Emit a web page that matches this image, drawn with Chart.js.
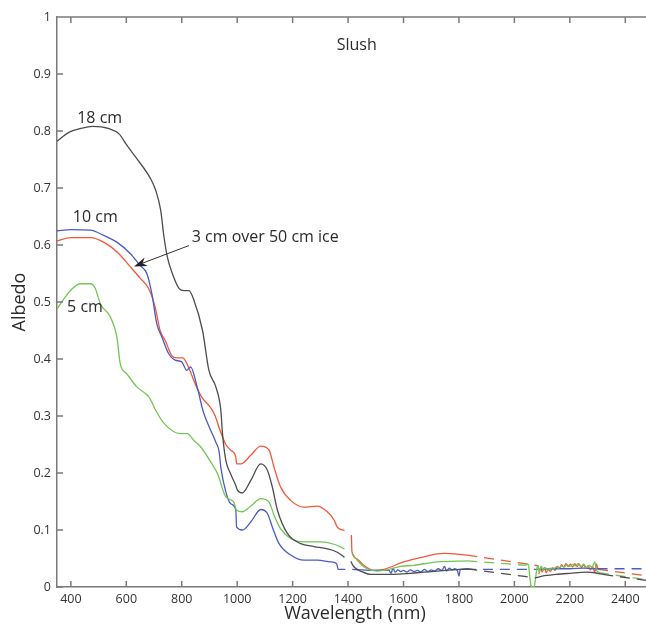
<!DOCTYPE html>
<html>
<head>
<meta charset="utf-8">
<script src="https://cdn.jsdelivr.net/npm/chart.js@4.4.0/dist/chart.umd.min.js"></script>
<style>
  html, body { margin: 0; padding: 0; background: #fff; overflow: hidden; }
  canvas { display: block; }
</style>
</head>
<body>
<canvas id="chart" width="660" height="626"></canvas>
<script>
/* axis ticks */
const xTicks = [400, 600, 800, 1000, 1200, 1400, 1600, 1800, 2000, 2200, 2400];
const yTicks = [0, 0.1, 0.2, 0.3, 0.4, 0.5, 0.6, 0.7, 0.8, 0.9, 1];

/* 18 cm slush (measured parts, null = gap) */
const wl18 = [350, 394, 440, 478, 538, 574, 598, 634, 688, 706, 724, 736, 748, 766, 790, 808, 826, 844, 875, 898, 923, 941, 947, 959, 975, 995, 1001, 1019, 1049, 1085, 1109, 1127, 1145, 1181, 1229, 1277, 1325, 1361, 1387,
  1400, 1410, 1420, 1450, 1481, 1550, 1650, 1750, 1830,
  1950, 2075, 2100, 2150, 2200, 2260, 2290, 2320];
const alb18 = [0.782, 0.798, 0.805, 0.808, 0.804, 0.795, 0.778, 0.754, 0.716, 0.696, 0.661, 0.614, 0.579, 0.55, 0.524, 0.52, 0.52, 0.503, 0.45, 0.38, 0.351, 0.31, 0.269, 0.222, 0.2, 0.178, 0.17, 0.165, 0.187, 0.216, 0.205, 0.175, 0.135, 0.094, 0.076, 0.071, 0.067, 0.061, 0.052,
  null, 0.045, 0.036, 0.027, 0.022, 0.022, 0.025, 0.029, 0.032,
  null, 0.016, 0.019, 0.022, 0.024, 0.026, 0.025, 0.022];
/* 18 cm interpolated (dashed) */
const wl18Fill = [1830, 2075, 2200, 2320, 2500];
const alb18Fill = [0.032, 0.016, null, 0.022, 0.010];

/* 10 cm slush */
const wl10 = [350, 400, 470, 518, 566, 614, 650, 674, 692, 710, 728, 752, 776, 800, 818, 832, 857, 878, 900, 923, 935, 941, 959, 977, 995, 998, 1019, 1049, 1085, 1109, 1127, 1151, 1193, 1241, 1289, 1337, 1359, 1364, 1390,
  1400, 1415, 1450, 1500, 1540, 1548, 1555, 1562, 1570, 1580, 1590, 1600, 1612, 1625, 1638, 1650, 1662, 1675, 1688, 1700, 1712, 1725, 1738, 1748, 1755, 1765, 1775, 1785, 1795, 1800, 1805, 1825,
  1950, 2090, 2150, 2200, 2250, 2300];
const alb10 = [0.625, 0.627, 0.626, 0.617, 0.605, 0.585, 0.564, 0.55, 0.515, 0.462, 0.439, 0.41, 0.398, 0.395, 0.38, 0.386, 0.348, 0.307, 0.28, 0.254, 0.237, 0.21, 0.167, 0.146, 0.135, 0.105, 0.1, 0.114, 0.136, 0.129, 0.105, 0.076, 0.056, 0.047, 0.047, 0.044, 0.041, 0.031, 0.031,
  null, 0.031, 0.030, 0.029, 0.029, 0.029, 0.024, 0.033, 0.026, 0.030, 0.027, 0.029, 0.026, 0.030, 0.027, 0.029, 0.026, 0.031, 0.027, 0.030, 0.028, 0.032, 0.029, 0.036, 0.028, 0.033, 0.030, 0.032, 0.028, 0.019, 0.031, 0.031,
  null, 0.031, 0.032, 0.032, 0.033, 0.032];
const wl10Fill = [1825, 2090, 2200, 2300, 2500];
const alb10Fill = [0.031, 0.031, null, 0.032, 0.032];

/* 3 cm slush over 50 cm ice */
const wl3 = [350, 400, 470, 518, 566, 614, 650, 680, 704, 722, 740, 764, 782, 804, 824, 848, 872, 902, 920, 938, 959, 977, 995, 998, 1013, 1049, 1085, 1115, 1133, 1157, 1193, 1241, 1289, 1325, 1349, 1361, 1387,
  1400, 1412, 1414, 1430, 1457, 1493, 1529, 1601, 1673, 1745, 1830,
  1950, 2088, 2095, 2100, 2108, 2115, 2122, 2130, 2138, 2146, 2155, 2163, 2170, 2178, 2186, 2194, 2202, 2210, 2218, 2226, 2234, 2242, 2250, 2258, 2266, 2274, 2282, 2290, 2296, 2302];
const alb3 = [0.607, 0.613, 0.613, 0.605, 0.588, 0.562, 0.542, 0.524, 0.491, 0.45, 0.433, 0.406, 0.402, 0.402, 0.386, 0.357, 0.333, 0.316, 0.301, 0.275, 0.25, 0.24, 0.228, 0.216, 0.216, 0.231, 0.247, 0.24, 0.21, 0.175, 0.152, 0.14, 0.142, 0.132, 0.118, 0.105, 0.099,
  null, 0.091, 0.062, 0.05, 0.038, 0.029, 0.031, 0.044, 0.053, 0.059, 0.056,
  null, 0.022, 0.035, 0.026, 0.034, 0.025, 0.031, 0.027, 0.034, 0.029, 0.036, 0.033, 0.039, 0.035, 0.041, 0.036, 0.040, 0.035, 0.041, 0.036, 0.040, 0.034, 0.039, 0.033, 0.037, 0.030, 0.036, 0.026, 0.040, 0.030];
const wl3Fill = [1830, 2088, 2200, 2302, 2500];
const alb3Fill = [0.056, 0.037, null, 0.031, 0.018];

/* 5 cm slush */
const wl5 = [350, 380, 400, 434, 470, 488, 506, 542, 566, 578, 602, 638, 682, 706, 736, 796, 820, 844, 868, 905, 929, 959, 988, 997, 1019, 1049, 1085, 1115, 1133, 1157, 1193, 1241, 1301, 1349, 1387,
  1400, 1415, 1433, 1469, 1505, 1541, 1589, 1637, 1721, 1830,
  1950, 2040, 2050, 2055, 2060, 2066, 2072, 2077, 2084, 2090, 2097, 2104, 2112, 2120, 2130, 2140, 2150, 2160, 2170, 2180, 2190, 2200, 2210, 2220, 2230, 2240, 2250, 2260, 2270, 2280, 2290, 2296, 2305];
const alb5 = [0.488, 0.509, 0.521, 0.532, 0.532, 0.524, 0.497, 0.474, 0.439, 0.392, 0.374, 0.351, 0.333, 0.31, 0.287, 0.269, 0.269, 0.257, 0.246, 0.219, 0.199, 0.158, 0.149, 0.135, 0.132, 0.142, 0.155, 0.149, 0.126, 0.102, 0.085, 0.079, 0.079, 0.075, 0.067,
  null, 0.059, 0.047, 0.032, 0.028, 0.030, 0.036, 0.038, 0.044, 0.046,
  null, 0.038, 0.040, 0.020, 0.003, 0.0, 0.002, 0.018, 0.038, 0.026, 0.036, 0.030, 0.034, 0.029, 0.033, 0.031, 0.035, 0.033, 0.037, 0.035, 0.039, 0.036, 0.040, 0.037, 0.041, 0.036, 0.040, 0.034, 0.038, 0.035, 0.044, 0.030, 0.026];
const wl5Fill = [1830, 2040, 2200, 2305, 2500];
const alb5Fill = [0.046, 0.038, null, 0.025, 0.011];

const black = "#4d4d4d";
const blue = "#4a5cc4";
const red = "#f4563a";
const green = "#72c653";
const textColor = "#2b2b2b";
const axisColor = "#7a7a7a";
const fontFamily = "'Open Sans', 'Noto Sans', sans-serif";

function toPoints(wl, alb) {
  return wl.map((x, i) => ({ x: x, y: alb[i] }));
}

function lineSet(label, wl, alb, color, dashed) {
  return {
    label: label,
    data: toPoints(wl, alb),
    borderColor: color,
    borderWidth: 1.3,
    borderDash: dashed ? [10, 7] : [],
    pointRadius: 0,
    fill: false,
    spanGaps: false,
    cubicInterpolationMode: "monotone",
  };
}

/* inward ticks, top frame, text notes and arrow */
const decorPlugin = {
  id: "decor",
  afterDraw(chart) {
    const ctx = chart.ctx;
    const xs = chart.scales.x;
    const ys = chart.scales.y;
    const area = chart.chartArea;
    ctx.save();
    ctx.strokeStyle = axisColor;
    ctx.lineWidth = 1.5;
    ctx.beginPath();
    ctx.moveTo(area.left, area.top);
    ctx.lineTo(area.right, area.top);
    xTicks.forEach((v) => {
      const px = xs.getPixelForValue(v);
      ctx.moveTo(px, area.bottom);
      ctx.lineTo(px, area.bottom - 6);
      ctx.moveTo(px, area.top);
      ctx.lineTo(px, area.top + 6);
    });
    yTicks.forEach((v) => {
      const py = ys.getPixelForValue(v);
      ctx.moveTo(area.left, py);
      ctx.lineTo(area.left + 6, py);
    });
    ctx.stroke();

    ctx.fillStyle = textColor;
    ctx.font = "16px " + fontFamily;
    ctx.textBaseline = "middle";
    const notes = [
      { text: "Slush", x: 1431, y: 0.95, align: "center" },
      { text: "18 cm", x: 504, y: 0.822, align: "center" },
      { text: "10 cm", x: 488, y: 0.648, align: "center" },
      { text: "5 cm", x: 451, y: 0.491, align: "center" },
      { text: "3 cm over 50 cm ice", x: 836, y: 0.614, align: "left" },
    ];
    notes.forEach((n) => {
      ctx.textAlign = n.align;
      ctx.fillText(n.text, xs.getPixelForValue(n.x), ys.getPixelForValue(n.y));
    });

    /* arrow to the 3 cm curve */
    const x0 = xs.getPixelForValue(826), y0 = ys.getPixelForValue(0.599);
    const x1 = xs.getPixelForValue(628), y1 = ys.getPixelForValue(0.5625);
    const ang = Math.atan2(y1 - y0, x1 - x0);
    ctx.strokeStyle = "#333";
    ctx.lineWidth = 1;
    ctx.beginPath();
    ctx.moveTo(x0, y0);
    ctx.lineTo(x1 - 8 * Math.cos(ang), y1 - 8 * Math.sin(ang));
    ctx.stroke();
    ctx.fillStyle = "#222";
    ctx.beginPath();
    ctx.moveTo(x1, y1);
    ctx.lineTo(x1 - 13 * Math.cos(ang) + 4.5 * Math.sin(ang), y1 - 13 * Math.sin(ang) - 4.5 * Math.cos(ang));
    ctx.lineTo(x1 - 9 * Math.cos(ang), y1 - 9 * Math.sin(ang));
    ctx.lineTo(x1 - 13 * Math.cos(ang) - 4.5 * Math.sin(ang), y1 - 13 * Math.sin(ang) + 4.5 * Math.cos(ang));
    ctx.closePath();
    ctx.fill();
    ctx.restore();
  },
};

const config = {
  type: "line",
  data: {
    datasets: [
      lineSet("18 cm", wl18, alb18, black, false),
      lineSet("18 cm fill", wl18Fill, alb18Fill, black, true),
      lineSet("5 cm", wl5, alb5, green, false),
      lineSet("5 cm fill", wl5Fill, alb5Fill, green, true),
      lineSet("10 cm", wl10, alb10, blue, false),
      lineSet("10 cm fill", wl10Fill, alb10Fill, blue, true),
      lineSet("3 cm over 50 cm ice", wl3, alb3, red, false),
      lineSet("3 cm fill", wl3Fill, alb3Fill, red, true),
    ],
  },
  options: {
    responsive: false,
    animation: false,
    layout: { padding: { left: 0, top: 17, right: 7, bottom: 0 } },
    plugins: {
      legend: { display: false },
      tooltip: { enabled: false },
    },
    scales: {
      x: {
        type: "linear",
        min: 350,
        max: 2500,
        afterFit: (scale) => { scale.height = 39; },
        afterBuildTicks: (scale) => { scale.ticks = xTicks.map((v) => ({ value: v })); },
        grid: { display: false, drawTicks: false },
        border: { display: true, color: axisColor, width: 1.5 },
        ticks: {
          padding: 5,
          color: "#333",
          font: { family: fontFamily, size: 12.5 },
          maxRotation: 0,
          callback: (v) => String(v),
        },
        title: {
          display: true,
          text: "Wavelength (nm)",
          color: textColor,
          font: { family: fontFamily, size: 18 },
          padding: { top: 0, bottom: 1 },
        },
      },
      y: {
        min: 0,
        max: 1,
        afterFit: (scale) => { scale.width = 57; },
        afterBuildTicks: (scale) => { scale.ticks = yTicks.map((v) => ({ value: v })); },
        grid: { display: false, drawTicks: false },
        border: { display: true, color: axisColor, width: 1.5 },
        ticks: {
          padding: 6,
          color: "#333",
          font: { family: fontFamily, size: 12.5 },
          callback: (v) => String(+v.toFixed(1)),
        },
        title: {
          display: true,
          text: "Albedo",
          color: textColor,
          font: { family: fontFamily, size: 18 },
          padding: { top: 9, bottom: 0 },
        },
      },
    },
  },
  plugins: [decorPlugin],
};

const myChart = new Chart(document.getElementById("chart"), config);
</script>
</body>
</html>
